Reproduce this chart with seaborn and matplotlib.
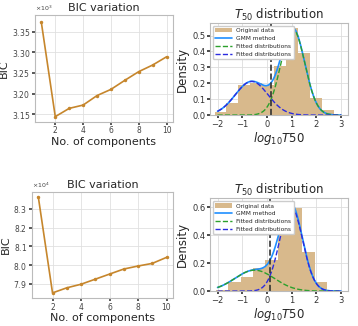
import numpy as np
import pandas as pd
import matplotlib
matplotlib.use("Agg")
import matplotlib.pyplot as plt
import seaborn as sns

# BIC curves
n_components = [1, 2, 3, 4, 5, 6, 7, 8, 9, 10]
bic_top = [3372, 3144, 3164, 3172, 3195, 3210, 3232, 3253, 3269, 3289]
bic_bottom = [83640, 78520, 78790, 78980, 79250, 79520, 79790, 79950, 80090, 80410]

# histograms of log10 T50 (density per bin)
edges_top = [-2.12, -1.64, -1.16, -0.67, -0.19, 0.29, 0.77, 1.25, 1.73, 2.22, 2.70]
dens_top = [0.018, 0.076, 0.19, 0.20, 0.19, 0.31, 0.545, 0.39, 0.11, 0.03]
edges_bottom = [-2.07, -1.57, -1.07, -0.57, -0.07, 0.43, 0.93, 1.43, 1.93, 2.43]
dens_bottom = [0.01, 0.065, 0.10, 0.165, 0.22, 0.51, 0.595, 0.277, 0.065]

# fitted GMM components: (weight, mean, sigma); first drawn green, second blue
gmm_top = [(0.65, 1.05, 0.48), (0.35, -0.62, 0.66)]
gmm_bottom = [(0.30, -0.50, 0.80), (0.70, 0.98, 0.465)]
threshold_top = 0.17
threshold_bottom = 0.13

sns.set_theme(style="whitegrid")
plt.rcParams["font.family"] = ["DejaVu Sans"]

line_color = "#c6862c"
bar_color = "#d8b98c"


def normal_pdf(x, w, mu, sd):
    return w * np.exp(-0.5 * ((x - mu) / sd) ** 2) / (np.sqrt(2 * np.pi) * sd)


def plot_bic(ax, bic, ylim):
    df = pd.DataFrame({"n": n_components, "bic": bic})
    sns.lineplot(data=df, x="n", y="bic", ax=ax, color=line_color, marker="o",
                 markersize=2.5, markeredgewidth=0, linewidth=1.2)
    ax.set_title("BIC variation", fontsize=8, pad=3)
    ax.set_xlabel("No. of components", fontsize=8, labelpad=1)
    ax.set_ylabel("BIC", fontsize=8, labelpad=2)
    ax.set_xticks([2, 4, 6, 8, 10])
    ax.set_xlim(0.55, 10.45)
    ax.set_ylim(*ylim)
    ax.ticklabel_format(axis="y", style="sci", scilimits=(0, 0), useMathText=True)
    ax.yaxis.get_offset_text().set_fontsize(4.5)
    ax.tick_params(labelsize=5.5, colors="#444444", length=2, pad=1.5, left=True, bottom=True)
    ax.grid(color="#e0e0e0", linewidth=0.6)
    for s in ax.spines.values():
        s.set_color("#bbbbbb")
        s.set_linewidth(0.8)


def plot_hist(ax, edges, dens, comps, thr, ylim, yticks):
    centers = [(a + b) / 2 for a, b in zip(edges[:-1], edges[1:])]
    hist_df = pd.DataFrame({"x": centers, "w": dens})
    sns.histplot(data=hist_df, x="x", weights="w", bins=list(edges), stat="count", ax=ax,
                 color=bar_color, alpha=1.0, edgecolor="none", linewidth=0,
                 label="Original data")
    xs = np.linspace(-2, 3, 300)
    c1 = normal_pdf(xs, *comps[0])
    c2 = normal_pdf(xs, *comps[1])
    sns.lineplot(x=xs, y=c1 + c2, ax=ax, color="#1f8fff", linewidth=1.2, label="GMM method")
    sns.lineplot(x=xs, y=c1, ax=ax, color="#2ca02c", linewidth=1.0, linestyle="--",
                 label="Fitted distributions")
    sns.lineplot(x=xs, y=c2, ax=ax, color="#2b2bdf", linewidth=1.0, linestyle="--",
                 label="Fitted distributions")
    ax.axvline(thr, color="#333333", linestyle="--", linewidth=1.2)
    ax.set_title("$T_{50}$ distribution", fontsize=8.5, pad=3)
    ax.set_xlabel("$log_{10}T50$", fontsize=8.5, labelpad=1)
    ax.set_ylabel("Density", fontsize=8.5, labelpad=2)
    ax.set_xlim(-2.3, 3.28)
    ax.set_xticks([-2, -1, 0, 1, 2, 3])
    ax.set_ylim(*ylim)
    ax.set_yticks(yticks)
    ax.tick_params(labelsize=6, colors="#333333", length=2, pad=1.5, left=True, bottom=True)
    ax.grid(color="#dddddd", linewidth=0.6)
    for s in ax.spines.values():
        s.set_color("#bbbbbb")
        s.set_linewidth(0.8)
    handles, labels = ax.get_legend_handles_labels()
    order = [len(handles) - 1] + list(range(len(handles) - 1))
    ax.legend([handles[i] for i in order], [labels[i] for i in order],
              loc="upper left", fontsize=4.2, frameon=True, handlelength=2.8,
              borderpad=0.4, labelspacing=0.45, framealpha=1)


fig = plt.figure(figsize=(3.58, 3.26), dpi=100)
ax_tl = fig.add_axes([0.098, 0.627, 0.385, 0.327])
ax_tr = fig.add_axes([0.587, 0.647, 0.385, 0.282])
ax_bl = fig.add_axes([0.089, 0.086, 0.394, 0.325])
ax_br = fig.add_axes([0.587, 0.107, 0.385, 0.285])

plot_bic(ax_tl, bic_top, (3132, 3390))
plot_bic(ax_bl, bic_bottom, (78250, 83890))
plot_hist(ax_tr, edges_top, dens_top, gmm_top, threshold_top, (0, 0.578),
          [0.0, 0.1, 0.2, 0.3, 0.4, 0.5])
plot_hist(ax_br, edges_bottom, dens_bottom, gmm_bottom, threshold_bottom, (0, 0.663),
          [0.0, 0.2, 0.4, 0.6])

fig.savefig("out.png", dpi=100)
